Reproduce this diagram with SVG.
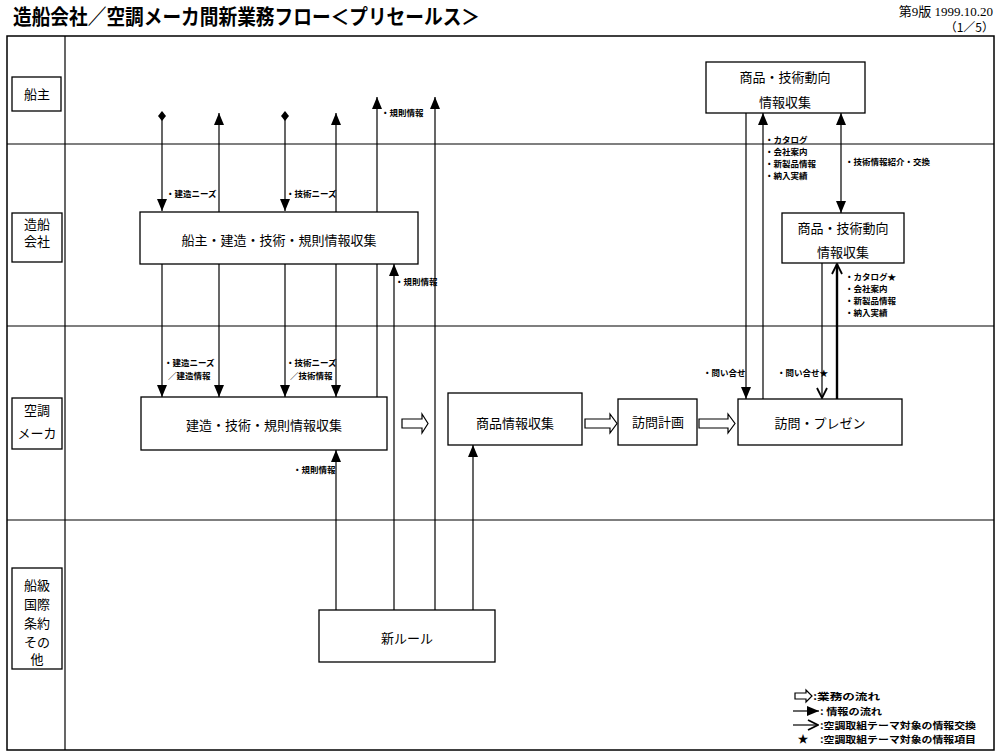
<svg xmlns="http://www.w3.org/2000/svg" width="1000" height="754" viewBox="0 0 1000 754">
<style>
.box{fill:#fff;stroke:#000;stroke-width:1.3}
.frame{fill:none;stroke:#000;stroke-width:1.5}
.lane{stroke:#000;stroke-width:1.2}
.c{stroke:#000;stroke-width:1.2;fill:none}
.thick{stroke:#000;stroke-width:2.4;fill:none}
.blk{fill:#fff;stroke:#000;stroke-width:1.2}
.t{font-family:"Noto Sans CJK JP","Noto Sans CJK SC",sans-serif;font-size:13px;text-anchor:middle;fill:#000}
.l{font-family:"Noto Sans CJK JP","Noto Sans CJK SC",sans-serif;font-size:8.5px;font-weight:bold;fill:#000}
.g{font-family:"Noto Sans CJK JP","Noto Sans CJK SC",sans-serif;font-size:9.5px;font-weight:bold;fill:#000}
</style>
<defs>
<marker id="ah" viewBox="0 0 12 10" refX="12" refY="5" markerWidth="12" markerHeight="10" markerUnits="userSpaceOnUse" orient="auto-start-reverse"><path d="M0,0 L12,5 L0,10 z" fill="#000"/></marker>
<marker id="dm" viewBox="0 0 10 10" refX="5" refY="5" markerWidth="10" markerHeight="10" markerUnits="userSpaceOnUse" orient="auto"><path d="M0,5 L5,1 L10,5 L5,9 z" fill="#000"/></marker>
<marker id="ov" viewBox="0 0 12 12" refX="11" refY="6" markerWidth="12" markerHeight="12" markerUnits="userSpaceOnUse" orient="auto"><path d="M1,1 L11,6 L1,11" fill="none" stroke="#000" stroke-width="1.8"/></marker>
</defs>

<!-- header -->
<text x="13" y="24" font-family="'Noto Sans CJK JP','Noto Sans CJK SC',sans-serif" font-size="21" font-weight="bold" textLength="467" lengthAdjust="spacingAndGlyphs">造船会社／空調メーカ間新業務フロー＜プリセールス＞</text>
<text x="993" y="16" font-family="'Liberation Serif','Noto Sans CJK JP',serif" font-size="13" text-anchor="end">第9版 1999.10.20</text>
<text x="994" y="32" font-family="'Noto Sans CJK JP',sans-serif" font-size="12" text-anchor="end">（1／5）</text>

<!-- frame and lanes -->
<g id="lanes">
<rect class="frame" x="7" y="36" width="987" height="714"/>
<line class="lane" x1="65" y1="36" x2="65" y2="750"/>
<line class="lane" x1="7" y1="144" x2="994" y2="144"/>
<line class="lane" x1="7" y1="326" x2="994" y2="326"/>
<line class="lane" x1="7" y1="520" x2="994" y2="520"/>
</g>

<g id="lane-shipowner"><rect class="box" x="12" y="77" width="49" height="34"/><text class="t" x="37" y="99">船主</text></g>
<g id="lane-shipyard"><rect class="box" x="12" y="213" width="50" height="49"/><text class="t" x="37" y="229">造船</text><text class="t" x="37" y="246">会社</text></g>
<g id="lane-maker"><rect class="box" x="12" y="398" width="50" height="51"/><text class="t" x="37" y="415">空調</text><text class="t" x="37" y="438">メーカ</text></g>
<g id="lane-class"><rect class="box" x="12" y="568" width="50" height="101"/><text class="t" x="37" y="590">船級</text><text class="t" x="37" y="609">国際</text><text class="t" x="37" y="628">条約</text><text class="t" x="37" y="647">その</text><text class="t" x="37" y="664">他</text></g>

<!-- connectors -->
<g id="connectors">
<path class="c" d="M162,116 V211" marker-start="url(#dm)" marker-end="url(#ah)"/>
<path class="c" d="M162,264 V397" marker-end="url(#ah)"/>
<path class="c" d="M219,212 V113" marker-end="url(#ah)"/>
<path class="c" d="M219,264 V397" marker-end="url(#ah)"/>
<path class="c" d="M285,116 V211" marker-start="url(#dm)" marker-end="url(#ah)"/>
<path class="c" d="M285,264 V397" marker-end="url(#ah)"/>
<path class="c" d="M336,212 V113" marker-end="url(#ah)"/>
<path class="c" d="M336,264 V397" marker-end="url(#ah)"/>
<path class="c" d="M377,397 V97" marker-end="url(#ah)"/>
<path class="c" d="M394,610 V264" marker-end="url(#ah)"/>
<path class="c" d="M435,610 V97" marker-end="url(#ah)"/>
<path class="c" d="M336,610 V450" marker-end="url(#ah)"/>
<path class="c" d="M473,610 V445" marker-end="url(#ah)"/>
<path class="c" d="M746,113 V399" marker-end="url(#ah)"/>
<path class="c" d="M763,399 V113" marker-end="url(#ah)"/>
<path class="c" d="M841,113 V213" marker-start="url(#ah)" marker-end="url(#ah)"/>
<path class="c" d="M822,263 V398" stroke-width="1.5" marker-end="url(#ov)"/>
<path class="thick" d="M837,399 V264" marker-end="url(#ov)"/>
<polygon class="blk" points="402,419 422,419 422,414 428,423.5 422,433 422,428 402,428"/>
<polygon class="blk" points="585,419 610,419 610,414 617,423.5 610,433 610,428 585,428"/>
<polygon class="blk" points="699,419 728,419 728,414 735,423.5 728,433 728,428 699,428"/>
</g>

<!-- connector labels -->
<g id="labels">
<text class="l" x="166" y="197">・建造ニーズ</text>
<text class="l" x="286" y="197">・技術ニーズ</text>
<text class="l" x="381" y="116">・規則情報</text>
<text class="l" x="395" y="285">・規則情報</text>
<text class="l" x="164" y="366">・建造ニーズ</text>
<text class="l" x="168" y="379">／建造情報</text>
<text class="l" x="286" y="366">・技術ニーズ</text>
<text class="l" x="290" y="379">／技術情報</text>
<text class="l" x="293" y="473">・規則情報</text>
<text class="l" x="765" y="143">・カタログ</text>
<text class="l" x="765" y="155">・会社案内</text>
<text class="l" x="765" y="167">・新製品情報</text>
<text class="l" x="765" y="179">・納入実績</text>
<text class="l" x="845" y="165">・技術情報紹介・交換</text>
<text class="l" x="845" y="280">・カタログ★</text>
<text class="l" x="845" y="292">・会社案内</text>
<text class="l" x="845" y="304">・新製品情報</text>
<text class="l" x="845" y="316">・納入実績</text>
<text class="l" x="703" y="376">・問い合せ</text>
<text class="l" x="777" y="376">・問い合せ★</text>
</g>

<!-- nodes -->
<g id="node-shipyard-collect"><rect class="box" x="140" y="212" width="278" height="52"/><text class="t" x="279" y="245">船主・建造・技術・規則情報収集</text></g>
<g id="node-maker-collect"><rect class="box" x="141" y="397" width="246" height="53"/><text class="t" x="264" y="430">建造・技術・規則情報収集</text></g>
<g id="node-product-collect"><rect class="box" x="448" y="393" width="134" height="52"/><text class="t" x="515" y="428">商品情報収集</text></g>
<g id="node-visit-plan"><rect class="box" x="618" y="399" width="79" height="46"/><text class="t" x="658" y="427">訪問計画</text></g>
<g id="node-visit-present"><rect class="box" x="738" y="399" width="164" height="46"/><text class="t" x="820" y="428">訪問・プレゼン</text></g>
<g id="node-owner-trend"><rect class="box" x="706" y="62" width="159" height="51"/><text class="t" x="785" y="82">商品・技術動向</text><text class="t" x="785" y="107">情報収集</text></g>
<g id="node-yard-trend"><rect class="box" x="782" y="213" width="122" height="50"/><text class="t" x="843" y="233">商品・技術動向</text><text class="t" x="843" y="257">情報収集</text></g>
<g id="node-new-rule"><rect class="box" x="319" y="610" width="176" height="52"/><text class="t" x="407" y="643">新ルール</text></g>

<!-- legend -->
<g id="legend">
<polygon class="blk" points="795,693 806,693 806,690 812,696 806,702 806,699 795,699"/>
<text class="g" x="813" y="700" textLength="67" lengthAdjust="spacingAndGlyphs">:業務の流れ</text>
<path class="c" d="M793,711 H819" marker-end="url(#ah)"/>
<text class="g" x="820" y="715" textLength="62" lengthAdjust="spacingAndGlyphs">: 情報の流れ</text>
<path class="c" d="M793,725 H818" marker-end="url(#ov)"/>
<text class="g" x="820" y="729" textLength="156" lengthAdjust="spacingAndGlyphs">:空調取組テーマ対象の情報交換</text>
<text x="803" y="743" font-family="'Noto Sans CJK JP',sans-serif" font-size="11" text-anchor="middle">★</text>
<text class="g" x="820" y="743" textLength="156" lengthAdjust="spacingAndGlyphs">:空調取組テーマ対象の情報項目</text>
</g>
</svg>
